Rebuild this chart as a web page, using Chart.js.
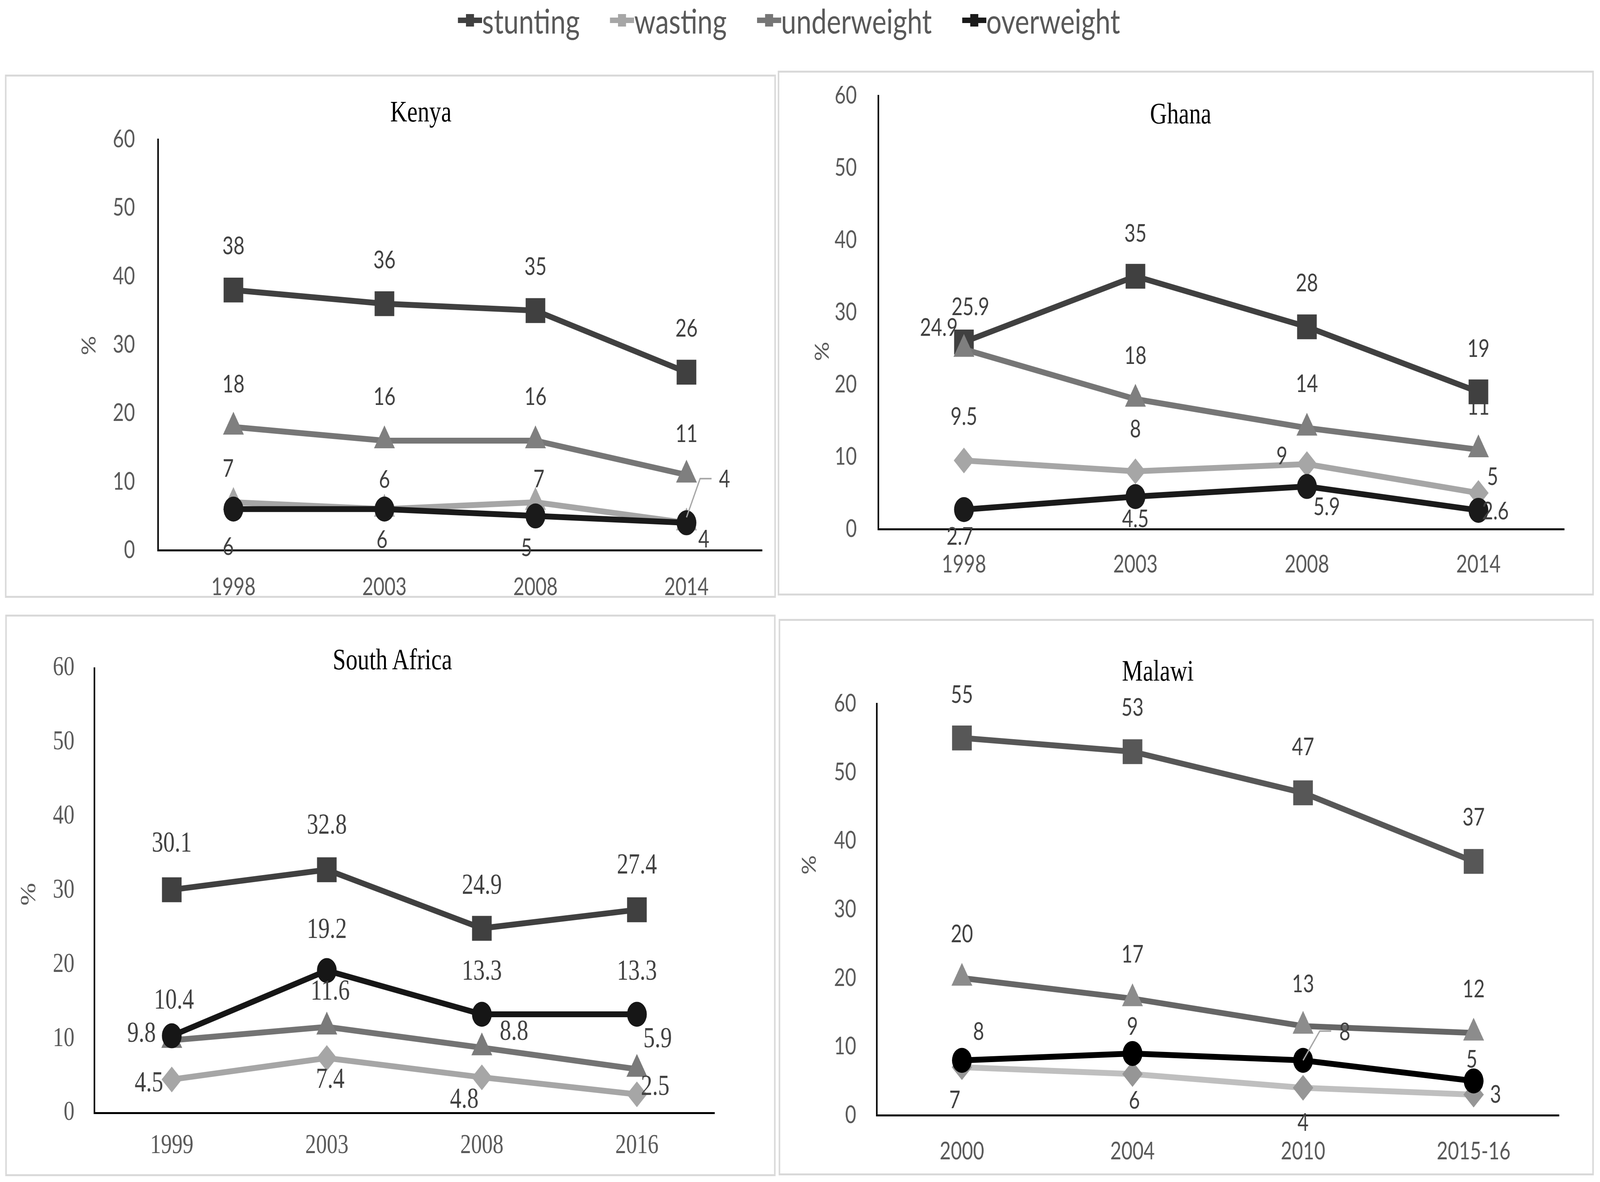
<!DOCTYPE html>
<html>
<head>
<meta charset="utf-8">
<script src="https://cdn.jsdelivr.net/npm/chart.js@4.4.1/dist/chart.umd.min.js"></script>
<style>
  html, body { margin: 0; padding: 0; background: #fff; overflow: hidden; }
  #page { position: absolute; left: 0; top: 0; width: 5178px; height: 3027px; transform-origin: 0 0; font-family: Lato, sans-serif; background: #fff; }
  .frame { position: absolute; border: 5px solid #d9d9d9; box-sizing: border-box; }
  canvas { position: absolute; }
  .title { position: absolute; font-family: 'Liberation Serif', serif; font-size: 76px; color: #000; transform: translate(-50%, -50%); white-space: nowrap; }
  #legend { position: absolute; left: 1482px; top: -8px; height: 120px; display: flex; align-items: center; color: #595959; font-size: 88px; }
  .item { display: flex; align-items: center; margin-right: 98px; }
  .mark { position: relative; width: 78px; height: 14px; }
  .mark i { position: absolute; left: 26px; top: -9px; width: 26px; height: 32px; }
</style>
</head>
<body>
<div id="page"><div id="legend"></div></div>

<script>
// series
const seriesNames = ['stunting', 'wasting', 'underweight', 'overweight'];
const yTicks = [0, 10, 20, 30, 40, 50, 60];

// Kenya
const kenyaYears = ['1998', '2003', '2008', '2014'];
const kenyaStunting = [38, 36, 35, 26];
const kenyaWasting = [7, 6, 7, 4];
const kenyaUnderweight = [18, 16, 16, 11];
const kenyaOverweight = [6, 6, 5, 4];

// Ghana
const ghanaYears = ['1998', '2003', '2008', '2014'];
const ghanaStunting = [25.9, 35, 28, 19];
const ghanaWasting = [9.5, 8, 9, 5];
const ghanaUnderweight = [24.9, 18, 14, 11];
const ghanaOverweight = [2.7, 4.5, 5.9, 2.6];

// South Africa
const saYears = ['1999', '2003', '2008', '2016'];
const saStunting = [30.1, 32.8, 24.9, 27.4];
const saWasting = [4.5, 7.4, 4.8, 2.5];
const saUnderweight = [9.8, 11.6, 8.8, 5.9];
const saOverweight = [10.4, 19.2, 13.3, 13.3];

// Malawi
const malawiYears = ['2000', '2004', '2010', '2015-16'];
const malawiStunting = [55, 53, 47, 37];
const malawiWasting = [7, 6, 4, 3];
const malawiUnderweight = [20, 17, 13, 12];
const malawiOverweight = [8, 9, 8, 5];

// the window can be narrower than the 5178x3027 design, stretch it to fill
const page = document.getElementById('page');
const sx = (window.innerWidth || 5178) / 5178;
const sy = (window.innerHeight || 3027) / 3027;
page.style.transform = 'scale(' + sx + ',' + sy + ')';
document.body.style.width = window.innerWidth + 'px';
document.body.style.height = window.innerHeight + 'px';

// layout / style (design px)
const greys = ['#404040', '#a6a6a6', '#767676', '#1a1a1a'];
const panels = [
  {
    title: 'Kenya', years: kenyaYears,
    values: [kenyaStunting, kenyaWasting, kenyaUnderweight, kenyaOverweight],
    box: [16, 191, 2511, 1531], plot: [511, 357, 2500, 1409],
    titleXY: [1362, 285], pct: [289, 885], padY: 74, padX: 58,
    font: 'Lato', tickSize: 62, labelSize: 62,
    lines: greys, points: ['#404040', '#a6a6a6', '#7f7f7f', '#1a1a1a'],
    shapes: ['rect', 'triangle', 'triangle', 'circle'],
    offsets: [
      [[0, -112], [0, -111], [0, -111], [0, -111]],
      [[-17, -85], [0, -75], [11, -58], [123, -111]],
      [[0, -108], [0, -111], [0, -111], [0, -104]],
      [[-17, 97], [-8, 79], [-29, 83], [56, 43]]
    ],
    leaders: [{ ds: 1, i: 3, path: [[0, -14], [44, -113], [81, -113]] }]
  },
  {
    title: 'Ghana', years: ghanaYears,
    values: [ghanaStunting, ghanaWasting, ghanaUnderweight, ghanaOverweight],
    box: [2517, 181, 5158, 1525], plot: [2842, 245, 5062, 1355],
    titleXY: [3821, 290], pct: [2662, 900], padY: 69, padX: 54,
    font: 'Lato', tickSize: 62, labelSize: 62,
    lines: greys, points: ['#404040', '#a6a6a6', '#7f7f7f', '#1a1a1a'],
    shapes: ['rect', 'rectRot', 'triangle', 'circle'],
    offsets: [
      [[21, -89], [0, -109], [0, -111], [0, -110]],
      [[0, -111], [0, -107], [-81, -20], [46, -41]],
      [[-81, -54], [0, -110], [0, -112], [0, -110]],
      [[-13, 70], [0, 58], [64, 53], [55, 3]]
    ],
    leaders: []
  },
  {
    title: 'South Africa', years: saYears,
    values: [saStunting, saWasting, saUnderweight, saOverweight],
    box: [17, 1574, 2510, 3012], plot: [305, 1711, 2312, 2850],
    titleXY: [1270, 1688], pct: [96, 2290], padY: 64, padX: 43,
    font: "'Liberation Serif'", tickSize: 70, labelSize: 74,
    lines: ['#404040', '#a6a6a6', '#737373', '#161616'], points: ['#404040', '#a6a6a6', '#7a7a7a', '#161616'],
    shapes: ['rect', 'rectRot', 'triangle', 'circle'],
    offsets: [
      [[0, -117], [0, -112], [0, -108], [0, -112]],
      [[-74, 11], [11, 57], [-57, 59], [59, -18]],
      [[-98, -15], [11, -89], [104, -39], [67, -75]],
      [[7, -89], [0, -103], [0, -108], [0, -108]]
    ],
    leaders: []
  },
  {
    title: 'Malawi', years: malawiYears,
    values: [malawiStunting, malawiWasting, malawiUnderweight, malawiOverweight],
    box: [2520, 1585, 5158, 3010], plot: [2837, 1802, 5045, 2856],
    titleXY: [3747, 1717], pct: [2620, 2215], padY: 66, padX: 56,
    font: 'Lato', tickSize: 62, labelSize: 62,
    lines: ['#575757', '#bfbfbf', '#666666', '#000000'], points: ['#575757', '#969696', '#8c8c8c', '#000000'],
    shapes: ['rect', 'rectRot', 'triangle', 'circle'],
    offsets: [
      [[0, -110], [0, -112], [0, -116], [0, -112]],
      [[-23, 85], [6, 68], [0, 90], [71, 1]],
      [[0, -112], [0, -112], [0, -107], [0, -111]],
      [[54, -72], [0, -68], [135, -71], [-6, -54]]
    ],
    leaders: [{ ds: 3, i: 2, path: [[0, 0], [54, -75], [91, -75]] }]
  }
];

const radius = { rect: 45, triangle: 39, rectRot: 33, circle: 32 };

// legend
const legend = document.getElementById('legend');
seriesNames.forEach((name, k) => {
  const item = document.createElement('div');
  item.className = 'item';
  item.innerHTML = '<span class="mark" style="background:' + greys[k] + '"><i style="background:' + greys[k] + '"></i></span><span>' + name + '</span>';
  legend.appendChild(item);
});

function labelPlugin(p) {
  return {
    id: 'pointLabels',
    afterDatasetsDraw(chart) {
      const ctx = chart.ctx;
      ctx.save();
      p.leaders.forEach(ld => {
        const el = chart.getDatasetMeta(ld.ds).data[ld.i];
        ctx.beginPath();
        ld.path.forEach(([dx, dy], k) => {
          if (k) ctx.lineTo(el.x + dx, el.y + dy); else ctx.moveTo(el.x + dx, el.y + dy);
        });
        ctx.strokeStyle = '#a6a6a6';
        ctx.lineWidth = 4;
        ctx.stroke();
      });
      ctx.font = p.labelSize + 'px ' + p.font;
      ctx.fillStyle = '#404040';
      ctx.textAlign = 'center';
      ctx.textBaseline = 'middle';
      chart.data.datasets.forEach((ds, d) => {
        chart.getDatasetMeta(d).data.forEach((el, i) => {
          const [dx, dy] = p.offsets[d][i];
          ctx.fillText(String(ds.data[i]), el.x + dx, el.y + dy);
        });
      });
      // axis title
      ctx.font = p.tickSize + 'px ' + p.font;
      ctx.fillStyle = '#595959';
      ctx.translate(p.pct[0] - p.box[0], p.pct[1] - p.box[1]);
      ctx.rotate(-Math.PI / 2);
      ctx.fillText('%', 0, 0);
      ctx.restore();
    }
  };
}

panels.forEach(p => {
  const [bl, bt, br, bb] = p.box;
  const [pl, pt, pr, pb] = p.plot;

  const frame = document.createElement('div');
  frame.className = 'frame';
  Object.assign(frame.style, { left: bl + 'px', top: bt + 'px', width: (br - bl) + 'px', height: (bb - bt) + 'px' });
  page.appendChild(frame);

  const canvas = document.createElement('canvas');
  canvas.width = br - bl;
  canvas.height = bb - bt;
  Object.assign(canvas.style, { left: bl + 'px', top: bt + 'px', width: (br - bl) + 'px', height: (bb - bt) + 'px' });
  page.appendChild(canvas);

  const title = document.createElement('div');
  title.className = 'title';
  title.textContent = p.title;
  Object.assign(title.style, { left: p.titleXY[0] + 'px', top: p.titleXY[1] + 'px' });
  page.appendChild(title);

  const tickFont = { family: p.font.replace(/'/g, ''), size: p.tickSize };

  new Chart(canvas, {
    type: 'line',
    data: {
      labels: p.years,
      datasets: seriesNames.map((name, k) => ({
        label: name,
        data: p.values[k],
        order: 4 - k,
        borderColor: p.lines[k],
        backgroundColor: p.points[k],
        borderWidth: 15,
        tension: 0,
        pointStyle: p.shapes[k],
        pointRadius: radius[p.shapes[k]],
        pointBackgroundColor: p.points[k],
        pointBorderWidth: 0,
        clip: false
      }))
    },
    options: {
      responsive: false,
      devicePixelRatio: 1,
      animation: false,
      events: [],
      layout: { padding: { top: pt - bt, right: br - pr, left: 0, bottom: 0 } },
      plugins: { legend: { display: false }, tooltip: { enabled: false } },
      scales: {
        x: {
          type: 'category',
          offset: true,
          grid: { display: false, drawTicks: false },
          border: { display: true, color: '#000', width: 5 },
          ticks: { color: '#595959', font: tickFont, padding: p.padX, maxRotation: 0 },
          afterFit: s => { s.height = bb - pb; s.paddingLeft = 0; s.paddingRight = 0; }
        },
        y: {
          min: 0, max: 60,
          afterBuildTicks: s => { s.ticks = yTicks.map(v => ({ value: v })); },
          grid: { display: false, drawTicks: false },
          border: { display: true, color: '#000', width: 5 },
          ticks: { color: '#595959', font: tickFont, padding: p.padY },
          afterFit: s => { s.width = pl - bl; s.paddingTop = 0; s.paddingBottom = 0; }
        }
      }
    },
    plugins: [labelPlugin(p)]
  });
});
</script>
</body>
</html>
